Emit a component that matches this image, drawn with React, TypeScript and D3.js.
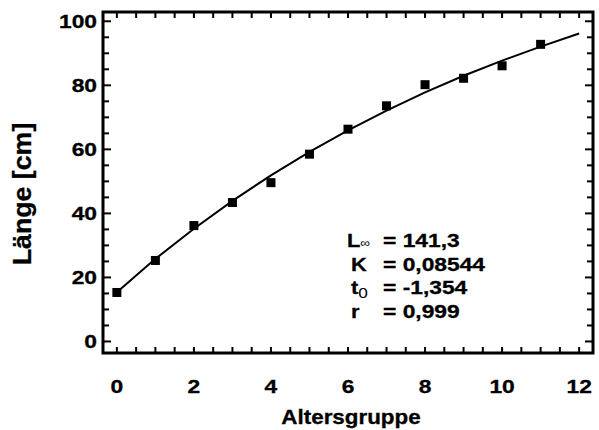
import * as d3 from "d3";

// Altersgruppe (x) und gemessene Länge in cm
const ageGroups = [0, 1, 2, 3, 4, 5, 6, 7, 8, 9, 10, 11];
const lengthObserved = [15.3, 25.3, 36.2, 43.4, 49.6, 58.5, 66.3, 73.6, 80.2, 82.2, 86.1, 92.8];

// fitted growth curve at whole years
const curveAges = [0, 1, 2, 3, 4, 5, 6, 7, 8, 9, 10, 11, 12];
const curveLength = [15.4, 25.8, 35.2, 43.9, 51.9, 59.2, 65.9, 72.1, 77.8, 83.0, 87.7, 92.1, 96.2];

const xTickLabels = [0, 2, 4, 6, 8, 10, 12];
const yTickLabels = [0, 20, 40, 60, 80, 100];

const paramNames = ["L", "K", "t", "r"];
const paramSubs = ["∞", "", "0", ""];
const paramValues = ["= 141,3", "= 0,08544", "= -1,354", "= 0,999"];

const W = 599,
  H = 430;
const left = 103,
  right = 593,
  top = 12,
  bottom = 353;
const font = "'Liberation Sans', Arial, sans-serif";

export default function App() {
  const x = d3.scaleLinear().domain([-0.36, 12.36]).range([left, right]);
  const y = d3.scaleLinear().domain([-3.6, 102.9]).range([bottom, top]);

  const line = d3
    .line<number>()
    .x((_, i) => x(curveAges[i]))
    .y((d) => y(d));

  const xTicks = d3.range(0, 12.01, 0.5);
  const yTicks = d3.range(0, 101, 5);
  const sq = 9;

  return (
    <svg
      width={W}
      height={H}
      style={{ position: "absolute", left: 0, top: 0, background: "#fff" }}
    >
      <path d={line(curveLength) || ""} fill="none" stroke="#000" strokeWidth={2} />
      {ageGroups.map((a, i) => (
        <rect
          key={a}
          x={x(a) - sq / 2}
          y={y(lengthObserved[i]) - sq / 2}
          width={sq}
          height={sq}
          fill="#000"
        />
      ))}

      {/* ticks, all pointing inwards on all four sides */}
      {xTicks.map((t) => (
        <g key={"xt" + t} stroke="#000" strokeWidth={2}>
          <line x1={x(t)} x2={x(t)} y1={bottom} y2={bottom - 6} />
          <line x1={x(t)} x2={x(t)} y1={top} y2={top + 6} />
        </g>
      ))}
      {yTicks.map((t) => {
        const len = t % 20 === 0 ? 8 : 6;
        return (
          <g key={"yt" + t} stroke="#000" strokeWidth={2}>
            <line x1={left} x2={left + len} y1={y(t)} y2={y(t)} />
            <line x1={right} x2={right - len} y1={y(t)} y2={y(t)} />
          </g>
        );
      })}
      <rect
        x={left}
        y={top}
        width={right - left}
        height={bottom - top}
        fill="none"
        stroke="#000"
        strokeWidth={3}
      />

      <g
        fontFamily={font}
        fontWeight="bold"
        fontSize={19}
        fill="#000"
        stroke="#000"
        strokeWidth={0.3}
      >
        {xTickLabels.map((t) => (
          <text
            key={"xl" + t}
            transform={`translate(${x(t)},${392.5}) scale(1.2,1)`}
            textAnchor="middle"
          >
            {t}
          </text>
        ))}
        {yTickLabels.map((t) => (
          <text
            key={"yl" + t}
            transform={`translate(${97},${y(t) + 7}) scale(1.2,1)`}
            textAnchor="end"
          >
            {t}
          </text>
        ))}
        <text
          transform={`translate(${351},${424}) scale(1.12,1)`}
          textAnchor="middle"
          fontSize={20}
        >
          Altersgruppe
        </text>
        <text
          transform={`translate(${31},${194}) rotate(-90) scale(1.07,1)`}
          textAnchor="middle"
          fontSize={25}
        >
          Länge [cm]
        </text>

        {paramNames.map((p, i) => {
          const by = 247 + i * 23.7;
          return (
            <g key={p}>
              <text transform={`translate(${i === 0 ? 347 : 351},${by}) scale(1.15,1)`}>
                {p}
                {paramSubs[i] && (
                  <tspan
                    fontSize={paramSubs[i] === "∞" ? 12 : 15}
                    fontWeight="normal"
                    strokeWidth={0}
                    dy={paramSubs[i] === "∞" ? 0 : 4}
                  >
                    {paramSubs[i]}
                  </tspan>
                )}
              </text>
              <text transform={`translate(${383},${by}) scale(1.2,1)`}>{paramValues[i]}</text>
            </g>
          );
        })}
      </g>
    </svg>
  );
}
